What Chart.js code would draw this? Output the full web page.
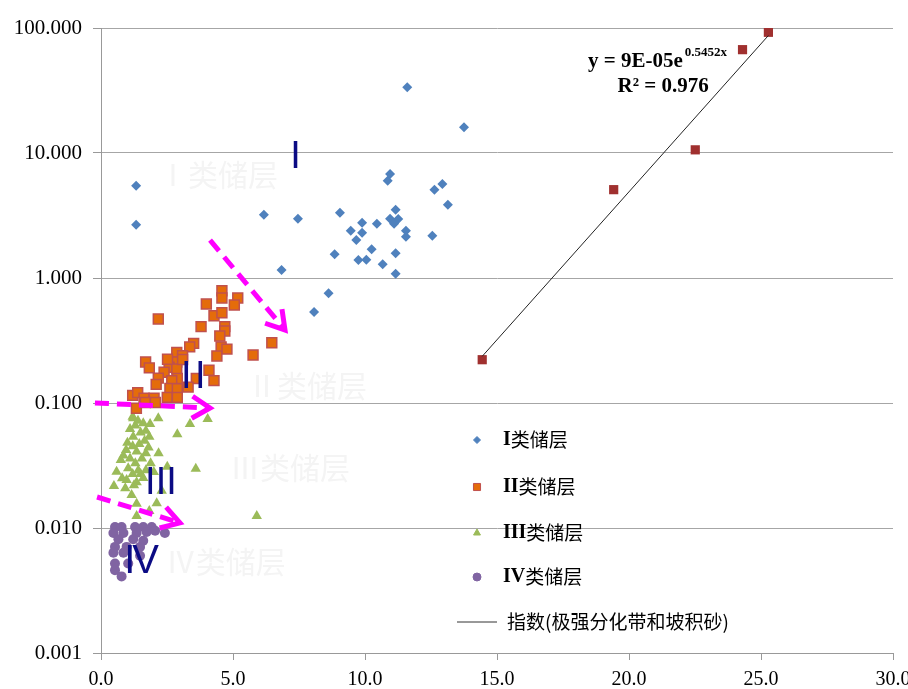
<!DOCTYPE html>
<html>
<head>
<meta charset="utf-8">
<script src="https://cdn.jsdelivr.net/npm/chart.js@4.4.0/dist/chart.umd.min.js"></script>
<style>
  html, body { margin: 0; padding: 0; background: #fff; }
  #wrap { width: 908px; height: 689px; }
</style>
</head>
<body>
<div id="wrap"><canvas id="chart" width="908" height="689"></canvas></div>
<script>
// axis ticks
const xTicks = [0, 5, 10, 15, 20, 25, 30];
const yTicks = [0.001, 0.01, 0.1, 1, 10, 100];

// series names
const seriesNames = ['I类储层', 'II类储层', 'III类储层', 'IV类储层', '指数(极强分化带和坡积砂)'];

// I类储层
const class1X = [1.33, 1.33, 6.17, 7.46, 6.84, 8.07, 8.62, 8.85, 9.05, 9.46, 9.67, 9.75, 9.89, 9.89, 10.05, 10.25, 10.45,
  10.67, 10.86, 10.95, 10.95, 11.10, 11.16, 11.16, 11.16, 11.26, 11.55, 11.55, 11.60, 12.55, 12.63, 12.93, 13.14, 13.75];
const class1Y = [5.47, 2.67, 3.21, 2.98, 1.16, 0.535, 0.755, 1.55, 3.33, 2.39, 2.01, 1.39, 2.77, 2.30, 1.40, 1.70, 2.72,
  1.29, 6.00, 6.79, 2.98, 2.72, 3.52, 1.58, 1.08, 2.97, 2.39, 2.14, 33.5, 2.18, 5.09, 5.65, 3.86, 16.05];

// II类储层
const class2X = [4.58, 4.58, 5.18, 3.99, 5.05, 4.28, 4.58, 2.17, 3.79, 4.69, 4.69, 4.50, 6.47, 3.51, 3.36, 4.55, 4.77,
  4.39, 5.76, 2.87, 3.09, 1.69, 1.83, 2.87, 2.58, 2.87, 2.39, 4.09, 2.17, 2.89, 3.61, 2.68, 4.28, 2.09, 2.61, 2.89,
  3.30, 1.20, 1.39, 1.63, 2.01, 2.51, 2.89, 1.34, 1.68, 2.06, 2.52, 3.09];
const class2Y = [0.791, 0.692, 0.692, 0.619, 0.608, 0.499, 0.527, 0.470, 0.408, 0.408, 0.377, 0.344, 0.303, 0.300, 0.281,
  0.281, 0.270, 0.238, 0.242, 0.254, 0.239, 0.213, 0.191, 0.213, 0.193, 0.187, 0.176, 0.183, 0.158, 0.157, 0.157, 0.151,
  0.151, 0.141, 0.131, 0.130, 0.134, 0.115, 0.121, 0.109, 0.109, 0.111, 0.111, 0.0907, 0.101, 0.101, 0.224, 0.223];

// III类储层
const class3X = [1.20, 2.17, 4.04, 3.37, 1.22, 1.60, 1.86, 2.89, 1.83, 1.22, 2.18, 0.95, 1.35, 1.70, 0.75, 1.88, 3.59,
  2.51, 0.59, 1.03, 1.41, 0.49, 0.97, 1.35, 1.60, 0.92, 1.16, 2.30, 1.35, 2.11, 1.35, 1.83, 5.90,
  1.10, 1.30, 1.50, 1.00, 1.20, 1.45, 1.65, 0.85, 1.10, 1.30, 1.55, 1.80, 1.20, 0.80, 1.50, 1.70, 1.25, 2.00, 1.40, 1.70];
const class3Y = [0.0777, 0.0754, 0.0745, 0.0679, 0.0754, 0.0688, 0.0679, 0.0562, 0.0538, 0.0538, 0.0396, 0.0421, 0.0410,
  0.0396, 0.0350, 0.0329, 0.0298, 0.0309, 0.0282, 0.0300, 0.0289, 0.0217, 0.0242, 0.0232, 0.0251, 0.0208, 0.0184, 0.0199,
  0.0156, 0.0158, 0.0125, 0.0137, 0.0125,
  0.062, 0.066, 0.058, 0.048, 0.045, 0.047, 0.050, 0.038, 0.036, 0.033, 0.036, 0.044, 0.027, 0.025, 0.027, 0.029, 0.022,
  0.028, 0.072, 0.060];

// IV类储层
const class4X = [0.53, 0.78, 1.29, 1.60, 1.92, 0.47, 0.85, 1.35, 1.73, 2.05, 2.42, 0.66, 1.22, 1.60, 0.53, 0.97, 1.48,
  0.47, 0.85, 1.48, 0.53, 1.03, 0.53, 0.78];
const class4Y = [0.0102, 0.0102, 0.0102, 0.0102, 0.0102, 0.00911, 0.00911, 0.00911, 0.0093, 0.0095, 0.00911, 0.00812,
  0.00812, 0.0079, 0.00706, 0.00706, 0.00706, 0.00633, 0.00633, 0.0060, 0.0052, 0.0052, 0.0046, 0.0041];

// 极强分化带和坡积砂 + exponential fit shown on chart
const zoneX = [14.44, 19.42, 22.51, 24.30, 25.28];
const zoneY = [0.222, 5.09, 10.6, 67.1, 92.4];
const fitA = 9e-5;
const fitB = 0.5452;
const fitLabel = ['y = 9E-05e', '0.5452x', 'R² = 0.976'];

const zip = (xs, ys) => xs.map((x, i) => ({ x: x, y: ys[i] }));
const fitX = [Math.min(...zoneX), Math.max(...zoneX)];
const fitLine = fitX.map(x => ({ x: x, y: fitA * Math.exp(fitB * x) }));

// decorations (data coordinates)
const zoneWatermarks = [
  { text: 'Ⅰ类储层', x: 4.43, y: 6.67 },
  { text: 'Ⅱ类储层', x: 7.80, y: 0.139 },
  { text: 'Ⅲ类储层', x: 7.16, y: 0.0302 },
  { text: 'Ⅳ类储层', x: 4.73, y: 0.00535 }
];
const zoneNumerals = [
  { text: 'I', x: 7.37, y: 7.59, spacing: 0 },
  { text: 'II', x: 3.56, y: 0.132, spacing: 3.5 },
  { text: 'III', x: 2.27, y: 0.0187, spacing: 0 },
  { text: 'IV', x: 1.48, y: 0.00437, spacing: -3 }
];
const arrows = [
  { x0: 4.13, y0: 2.01, x1: 6.97, y1: 0.384 },
  { x0: -0.23, y0: 0.100, x1: 4.13, y1: 0.0912 },
  { x0: -0.15, y0: 0.0177, x1: 2.99, y1: 0.0110 }
];

const serif = "'Liberation Serif', 'Times New Roman', serif";
const cjk = "'Noto Sans CJK SC', sans-serif";

const decorations = {
  id: 'decorations',
  beforeDatasetsDraw(chart) {
    const { ctx, scales: { x, y } } = chart;
    ctx.save();
    ctx.font = '30px ' + cjk;
    ctx.fillStyle = '#f4f4f4';
    ctx.textAlign = 'center';
    ctx.textBaseline = 'middle';
    zoneWatermarks.forEach(w => {
      ctx.fillText(w.text, x.getPixelForValue(w.x), y.getPixelForValue(w.y));
    });
    ctx.restore();
  },
  afterDatasetsDraw(chart) {
    const { ctx, chartArea, scales: { x, y } } = chart;
    ctx.save();

    // roman numerals
    ctx.fillStyle = '#0b0b84';
    ctx.textAlign = 'center';
    ctx.textBaseline = 'alphabetic';
    zoneNumerals.forEach(n => {
      ctx.font = (n.text === 'IV' ? '40px' : '38px') + " 'Liberation Sans', Arial, sans-serif";
      ctx.letterSpacing = n.spacing + 'px';
      ctx.fillText(n.text, x.getPixelForValue(n.x), y.getPixelForValue(n.y));
    });
    ctx.letterSpacing = '0px';

    // magenta dashed arrows
    ctx.strokeStyle = '#ff00ff';
    ctx.lineWidth = 5;
    arrows.forEach(a => {
      const px0 = x.getPixelForValue(a.x0), py0 = y.getPixelForValue(a.y0);
      const px1 = x.getPixelForValue(a.x1), py1 = y.getPixelForValue(a.y1);
      const ang = Math.atan2(py1 - py0, px1 - px0);
      ctx.setLineDash([14, 8]);
      ctx.beginPath();
      ctx.moveTo(px0, py0);
      ctx.lineTo(px1 - 3 * Math.cos(ang), py1 - 3 * Math.sin(ang));
      ctx.stroke();
      ctx.setLineDash([]);
      const len = 21, spread = 0.55;
      ctx.beginPath();
      ctx.moveTo(px1 - len * Math.cos(ang - spread), py1 - len * Math.sin(ang - spread));
      ctx.lineTo(px1, py1);
      ctx.lineTo(px1 - len * Math.cos(ang + spread), py1 - len * Math.sin(ang + spread));
      ctx.stroke();
    });

    // fit equation
    ctx.fillStyle = '#000';
    ctx.textAlign = 'left';
    ctx.font = 'bold 21px ' + serif;
    const ex = x.getPixelForValue(18.45), ey = y.getPixelForValue(49);
    ctx.fillText(fitLabel[0], ex, ey);
    const w0 = ctx.measureText(fitLabel[0]).width;
    ctx.font = 'bold 13px ' + serif;
    ctx.fillText(fitLabel[1], ex + w0 + 2, ey - 11);
    ctx.font = 'bold 21px ' + serif;
    ctx.textAlign = 'center';
    ctx.fillText(fitLabel[2], x.getPixelForValue(21.29), y.getPixelForValue(30.9));

    // legend
    const lx = chartArea.left + 376, tx = chartArea.left + 402;
    const rows = [412, 459, 505, 549, 594];
    const ds = chart.data.datasets;
    ctx.textAlign = 'left';
    ctx.textBaseline = 'middle';
    rows.forEach((r, i) => {
      const yy = chartArea.top + r;
      const d = ds[i];
      if (i < 4) {
        ctx.fillStyle = d.backgroundColor;
        ctx.strokeStyle = d.borderColor;
        ctx.lineWidth = 1;
        Chart.helpers.drawPoint(ctx, { pointStyle: d.pointStyle, radius: d.legendRadius, rotation: 0, borderWidth: 1 }, lx, yy);
        const m = seriesNames[i].match(/^([A-Z]+)(.*)$/);
        ctx.fillStyle = '#000';
        ctx.font = 'bold 20px ' + serif;
        ctx.fillText(m[1], tx, yy);
        const w = ctx.measureText(m[1]).width;
        ctx.font = '19px ' + cjk;
        ctx.fillText(m[2], tx + w, yy);
      } else {
        ctx.strokeStyle = '#333';
        ctx.lineWidth = 1;
        ctx.beginPath();
        ctx.moveTo(chartArea.left + 356, yy);
        ctx.lineTo(chartArea.left + 396, yy);
        ctx.stroke();
        ctx.fillStyle = '#000';
        ctx.font = '19px ' + cjk;
        ctx.fillText(seriesNames[4], tx + 4, yy);
      }
    });
    ctx.restore();
  }
};

new Chart(document.getElementById('chart'), {
  type: 'scatter',
  data: {
    datasets: [
      { label: seriesNames[0], data: zip(class1X, class1Y), pointStyle: 'rectRot', pointRadius: 5, legendRadius: 3.5,
        backgroundColor: '#4f81bd', borderColor: '#4f81bd', borderWidth: 0 },
      { label: seriesNames[1], data: zip(class2X, class2Y), pointStyle: 'rect', pointRadius: 7, legendRadius: 5,
        backgroundColor: '#e46c0a', borderColor: '#c0504d', borderWidth: 1.5 },
      { label: seriesNames[2], data: zip(class3X, class3Y), pointStyle: 'triangle', pointRadius: 6, legendRadius: 4,
        backgroundColor: '#9bbb59', borderColor: '#9bbb59', borderWidth: 0 },
      { label: seriesNames[3], data: zip(class4X, class4Y), pointStyle: 'circle', pointRadius: 5, legendRadius: 4,
        backgroundColor: '#8064a2', borderColor: '#8064a2', borderWidth: 0 },
      { label: seriesNames[4], data: fitLine, showLine: true, pointRadius: 0, borderColor: '#222', borderWidth: 1,
        backgroundColor: '#222' },
      { label: 'zone', data: zip(zoneX, zoneY), pointStyle: 'rect', pointRadius: 6.5,
        backgroundColor: '#a0302f', borderColor: '#a0302f', borderWidth: 0 }
    ]
  },
  options: {
    responsive: false,
    animation: false,
    events: [],
    layout: { padding: { top: 28, right: 15, left: 0, bottom: 0 } },
    plugins: { legend: { display: false }, tooltip: { enabled: false } },
    scales: {
      x: {
        type: 'linear', min: 0, max: 30,
        afterBuildTicks: s => { s.ticks = xTicks.map(v => ({ value: v })); },
        ticks: { callback: v => Number(v).toFixed(1), font: { family: serif, size: 20 }, color: '#000',
          padding: 8, maxRotation: 0, autoSkip: false },
        grid: { drawOnChartArea: false, tickLength: 7, tickColor: '#999', color: '#999' },
        border: { color: '#999', width: 1 },
        afterFit: s => { s.height = 36; s.paddingLeft = 0; s.paddingRight = 0; }
      },
      y: {
        type: 'logarithmic', min: 0.001, max: 100,
        afterBuildTicks: s => { s.ticks = yTicks.map(v => ({ value: v, major: true })); },
        ticks: { callback: v => Number(v).toFixed(3), font: { family: serif, size: 21 }, color: '#000',
          padding: 11, autoSkip: false },
        grid: { color: '#a6a6a6', tickLength: 8, tickColor: '#999' },
        border: { color: '#999', width: 1 },
        afterFit: s => { s.width = 101; s.paddingTop = 0; s.paddingBottom = 0; }
      }
    }
  },
  plugins: [decorations]
});
</script>
</body>
</html>
